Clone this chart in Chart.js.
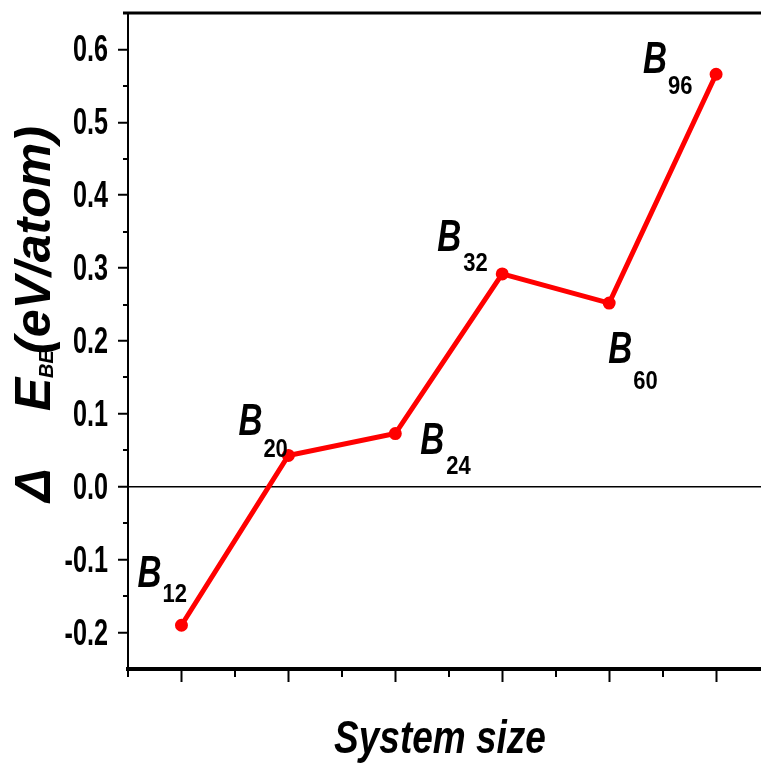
<!DOCTYPE html>
<html>
<head>
<meta charset="utf-8">
<script src="https://cdn.jsdelivr.net/npm/chart.js@4.4.1/dist/chart.umd.min.js"></script>
<style>
  html, body { margin: 0; padding: 0; background: #fff; overflow: hidden; }
  #wrap { width: 761px; height: 765px; }
</style>
</head>
<body>
<div id="wrap"><canvas id="chart" width="761" height="765"></canvas></div>
<script>
// valores
const clusters = ['12', '20', '24', '32', '60', '96'];
const deltaE = [-0.190, 0.043, 0.073, 0.292, 0.252, 0.566];
const yMajor = [-0.2, -0.1, 0, 0.1, 0.2, 0.3, 0.4, 0.5, 0.6];
const yMinor = [-0.15, -0.05, 0.05, 0.15, 0.25, 0.35, 0.45, 0.55];
const xMajor = [0, 1, 2, 3, 4, 5];
const xMinor = [-0.5, 0.5, 1.5, 2.5, 3.5, 4.5];

const SANS = "'Liberation Sans', Arial, sans-serif";

// desplazamiento de cada rótulo B_n respecto de su punto: [B x, B y, sub x, sub y]
const labelOffsets = [
  [-44, -38, -19, -23],
  [-50, -20, -25, 2],
  [25, 20, 51, 40],
  [-65, -23, -39, -3],
  [-1, 60, 24, 86],
  [-73, -1, -48, 20]
];

// texto estirado (la figura original está deformada en vertical)
function stretchText(ctx, text, font, x, y, sx, sy, align) {
  ctx.save();
  ctx.translate(x, y);
  ctx.scale(sx, sy);
  ctx.font = font;
  ctx.textAlign = align || 'left';
  ctx.textBaseline = 'alphabetic';
  ctx.fillText(text, 0, 0);
  ctx.restore();
}

function textRot(ctx, text, font, x, y) {
  ctx.save();
  ctx.translate(x, y);
  ctx.rotate(-Math.PI / 2);
  ctx.font = font;
  ctx.textAlign = 'left';
  ctx.fillText(text, 0, 0);
  ctx.restore();
}

const decor = {
  id: 'decor',
  afterDraw(chart) {
    const { ctx, chartArea: a, scales: { x, y } } = chart;
    ctx.save();
    ctx.strokeStyle = '#000';
    ctx.fillStyle = '#000';

    // ticks menores
    ctx.lineWidth = 2;
    yMinor.forEach(v => {
      const py = Math.round(y.getPixelForValue(v));
      ctx.beginPath(); ctx.moveTo(a.left - 5, py); ctx.lineTo(a.left, py); ctx.stroke();
    });
    xMinor.forEach(v => {
      const px = Math.round(x.getPixelForValue(v));
      ctx.beginPath(); ctx.moveTo(px, a.bottom); ctx.lineTo(px, a.bottom + 8); ctx.stroke();
    });

    // línea de arriba del marco
    ctx.lineWidth = 3;
    ctx.beginPath(); ctx.moveTo(a.left - 5, a.top); ctx.lineTo(a.right, a.top); ctx.stroke();

    // etiquetas del eje y
    yMajor.forEach(v => {
      const py = y.getPixelForValue(v);
      stretchText(ctx, v.toFixed(1), `bold 30px ${SANS}`, a.left - 20, py + 12, 0.84, 1.25, 'right');
    });

    // rótulos B_n
    deltaE.forEach((v, i) => {
      const px = x.getPixelForValue(i);
      const py = y.getPixelForValue(v);
      const o = labelOffsets[i];
      stretchText(ctx, 'B', `italic bold 35px ${SANS}`, px + o[0], py + o[1], 0.95, 1.25);
      stretchText(ctx, clusters[i], `bold 22px ${SANS}`, px + o[2], py + o[3], 1, 1.2);
    });

    // título eje x
    stretchText(ctx, 'System size', `italic bold 37px ${SANS}`, 440, 753, 1, 1.25, 'center');

    // título eje y
    const big = `italic bold 50px ${SANS}`;
    textRot(ctx, '\u0394', big, 50, 502);
    textRot(ctx, 'E', big, 50, 411);
    textRot(ctx, 'BE', `italic bold 20px ${SANS}`, 53, 378);
    textRot(ctx, '(eV/atom)', big, 50, 354);

    ctx.restore();
  }
};

new Chart(document.getElementById('chart'), {
  type: 'line',
  data: {
    datasets: [{
      data: deltaE.map((v, i) => ({ x: i, y: v })),
      borderColor: '#ff0000',
      backgroundColor: '#ff0000',
      borderWidth: 5,
      pointRadius: 4,
      pointHoverRadius: 4,
      tension: 0
    }]
  },
  options: {
    responsive: false,
    animation: false,
    events: [],
    layout: { autoPadding: false, padding: { top: 13, right: 0, bottom: 0, left: 0 } },
    plugins: { legend: { display: false }, tooltip: { enabled: false } },
    scales: {
      x: {
        type: 'linear',
        min: -0.5,
        max: 5.42,
        afterBuildTicks: s => { s.ticks = xMajor.map(v => ({ value: v })); },
        afterFit: s => { s.height = 96; s.paddingLeft = 0; s.paddingRight = 0; },
        ticks: { display: false },
        grid: { drawOnChartArea: false, drawTicks: true, tickLength: 13, tickWidth: 2, tickColor: '#000' },
        border: { display: true, color: '#000', width: 4 }
      },
      y: {
        min: -0.25,
        max: 0.65,
        afterBuildTicks: s => { s.ticks = yMajor.map(v => ({ value: v })); },
        afterFit: s => { s.width = 128; s.paddingTop = 0; s.paddingBottom = 0; },
        ticks: { display: false },
        grid: {
          drawOnChartArea: true,
          color: c => (c.tick && c.tick.value === 0 ? '#000' : 'rgba(0,0,0,0)'),
          lineWidth: 1.5,
          tickLength: 10,
          tickWidth: 2,
          tickColor: '#000'
        },
        border: { color: '#000', width: 2 }
      }
    }
  },
  plugins: [decor]
});
</script>
</body>
</html>
